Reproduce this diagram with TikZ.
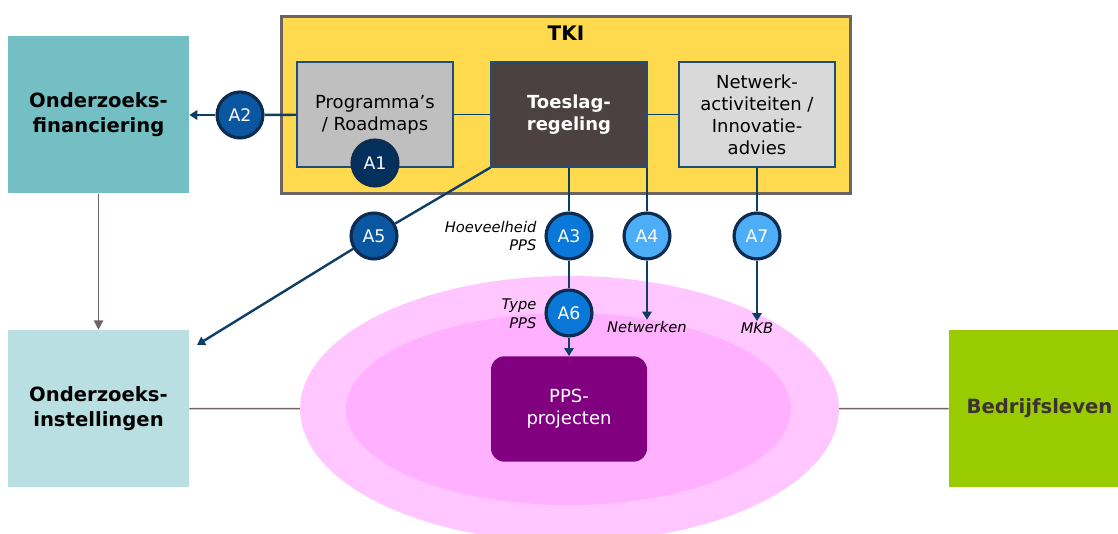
\documentclass[tikz,border=0pt]{standalone}
\usepackage{fontspec}
\setmainfont{DejaVu Sans}
\usetikzlibrary{shapes.geometric, arrows.meta, positioning}
\definecolor{tkifill}{RGB}{255,218,79}
\definecolor{tkiframe}{RGB}{108,99,99}
\definecolor{progfill}{RGB}{191,191,191}
\definecolor{toesfill}{RGB}{75,65,64}
\definecolor{netwfill}{RGB}{217,217,217}
\definecolor{boxline}{RGB}{31,78,121}
\definecolor{finfill}{RGB}{115,191,196}
\definecolor{instfill}{RGB}{185,223,227}
\definecolor{bedrfill}{RGB}{153,204,0}
\definecolor{bedrtext}{RGB}{60,50,50}
\definecolor{outerpink}{RGB}{255,198,255}
\definecolor{innerpink}{RGB}{255,176,255}
\definecolor{ppsfill}{RGB}{128,0,128}
\definecolor{actline}{RGB}{13,45,80}
\definecolor{linkblue}{RGB}{14,61,102}
\definecolor{grayline}{RGB}{110,100,100}
\definecolor{act1}{RGB}{3,48,92}
\definecolor{act2}{RGB}{10,86,160}
\definecolor{act3}{RGB}{10,120,216}
\definecolor{act4}{RGB}{77,173,247}

\begin{document}
\begin{tikzpicture}[x=0.75pt, y=-0.75pt,
    box/.style={rectangle, draw=boxline, line width=0.8pt, minimum width=117pt,
                minimum height=78.75pt, align=center, inner sep=2pt,
                font=\fontsize{13.5}{16.5}\selectfont},
    sidebox/.style={rectangle, minimum width=135.75pt, minimum height=117.75pt,
                    align=center, font=\fontsize{14.7}{18.5}\selectfont\bfseries},
    act/.style={circle, draw=actline, line width=2.4pt, minimum size=34.4pt,
                inner sep=0pt, text=white, font=\fontsize{13}{15}\selectfont},
    link/.style={draw=linkblue, line width=1.8pt},
    tip/.style={-{Triangle[width=7pt,length=6pt]}},
    note/.style={font=\fontsize{11}{14}\selectfont\itshape, inner sep=1pt}]

    \useasboundingbox (0,0) rectangle (1118,534);
    \clip (0,0) rectangle (1118,534);

    % Field
    \node[ellipse, fill=outerpink, minimum width=404pt, minimum height=199.5pt] (outer) at (569.5,409) {};
    \node[ellipse, fill=innerpink, minimum width=333.75pt, minimum height=144pt] (inner) at (568.5,409) {};
    \node[rectangle, rounded corners=10pt, fill=ppsfill, text=white, minimum width=117pt,
          minimum height=79pt, align=center, font=\fontsize{13.5}{16.5}\selectfont] (pps) at (569,409) {PPS-\\projecten};

    % TKI
    \node[rectangle, draw=tkiframe, line width=2.25pt, fill=tkifill, minimum width=427pt, minimum height=133pt] (tki) at (566,105) {};
    \node[font=\fontsize{15}{18}\selectfont\bfseries] (tkilabel) at (566,33) {TKI};
    \node[box, fill=progfill] (prog) at (375,114.5) {Programma’s\\/ Roadmaps};
    \node[box, fill=toesfill, text=white, font=\fontsize{13.5}{16.5}\selectfont\bfseries] (toes) at (569,114.5) {Toeslag-\\regeling};
    \node[box, fill=netwfill] (netw) at (757,114.5) {Netwerk-\\activiteiten /\\Innovatie-\\advies};

    % Parties
    \node[sidebox, fill=finfill] (fin) at (98.5,115) {Onderzoeks-\\financiering};
    \node[sidebox, fill=instfill] (inst) at (98.5,408.5) {Onderzoeks-\\instellingen};
    \node[sidebox, fill=bedrfill, text=bedrtext] (bedr) at (1039.5,408.5) {Bedrijfsleven};

    % Actions
    \node[act, fill=act1] (a1) at (375,163) {A1};
    \node[act, fill=act2] (a2) at (240,115) {A2};
    \node[act, fill=act3] (a3) at (569,236) {A3};
    \node[act, fill=act4] (a4) at (647,236) {A4};
    \node[act, fill=act2] (a5) at (374,236) {A5};
    \node[act, fill=act3] (a6) at (569,313) {A6};
    \node[act, fill=act4] (a7) at (757,236) {A7};

    % Notes
    \node[note, align=right, anchor=east] (hoev) at (538,236) {Hoeveelheid\\PPS};
    \node[note, align=right, anchor=east] (type) at (538,314) {Type\\PPS};
    \node[note] (netwerken) at (647,327) {Netwerken};
    \node[note] (mkb) at (757,328) {MKB};
    \coordinate (a5end) at (197,345);

    % Connectors
    \draw[grayline, line width=1.1pt, -{Triangle[width=7pt,length=7pt]}] (fin) -- (inst);
    \draw[grayline, line width=1.1pt] (inst) -- (outer);
    \draw[grayline, line width=1.1pt] (outer) -- (bedr);

    \draw[link, line width=1pt] (prog) -- (toes);
    \draw[link, line width=1pt] (toes) -- (netw);
    \draw[link] (prog) -- (a2);
    \draw[link, tip] (a2) -- (fin);
    \draw[link] (toes.south) -- (a3);
    \draw[link] (a3) -- (a6);
    \draw[link, tip] (a6) -- (pps);
    \draw[link] (toes.south -| a4) -- (a4);
    \draw[link, tip] (a4) -- (netwerken);
    \draw[link] (netw) -- (a7);
    \draw[link, tip] (a7) -- (mkb);
    \draw[link] (toes.south west) -- (a5);
    \draw[link, tip] (a5) -- (a5end);
\end{tikzpicture}
\end{document}
